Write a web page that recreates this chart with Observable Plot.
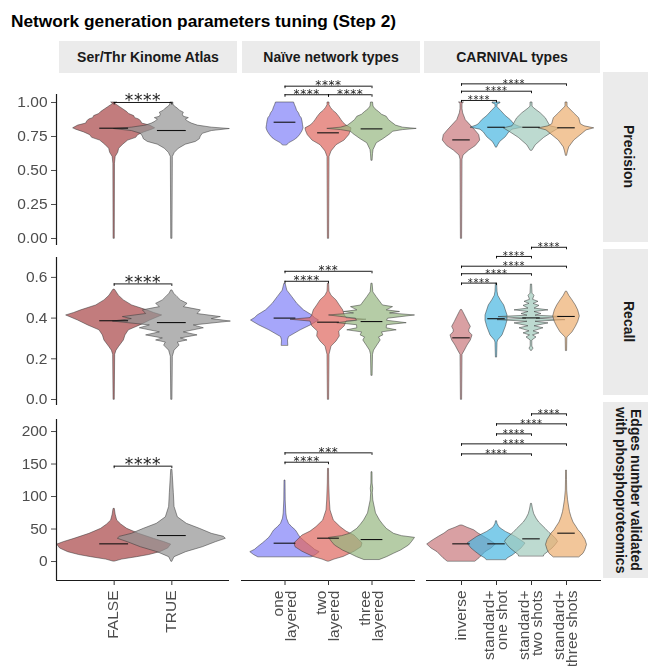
<!DOCTYPE html>
<html><head><meta charset="utf-8">
<script src="https://cdn.jsdelivr.net/npm/d3@7"></script>
<script src="https://cdn.jsdelivr.net/npm/@observablehq/plot@0.6"></script>
<style>
body{margin:0;background:#fff;}
#root{position:relative;width:648px;height:666px;overflow:hidden;background:#fff;font-family:"Liberation Sans",Arial,sans-serif;}
.title{position:absolute;left:11px;top:13px;font-size:17.3px;font-weight:bold;line-height:1;color:#000;white-space:nowrap;}
.strip{position:absolute;background:#ebebeb;display:flex;align-items:center;justify-content:center;font-weight:bold;font-size:14px;color:#1a1a1a;}
.vtext{writing-mode:vertical-rl;text-align:center;line-height:1.1;white-space:pre;}
.panel{position:absolute;will-change:transform;}
g[font-family="DejaVu Sans"]{letter-spacing:0.6px;}
</style></head><body><div id="root"></div>
<script>
// ---------------- labels ----------------
const chartTitle = "Network generation parameters tuning (Step 2)";
const columnTitles = ["Ser/Thr Kinome Atlas", "Naïve network types", "CARNIVAL types"];
const rowTitles = ["Precision", "Recall", "Edges number validated\nwith phosphoproteomics"];
const kinomeCategories = ["FALSE", "TRUE"];
const naiveCategories = ["one\nlayered", "two\nlayered", "three\nlayered"];
const carnivalCategories = ["inverse", "standard+\none shot", "standard+\ntwo shots", "standard+\nthree shots"];
const kinomeColors = ["#a84446", "#939393"];
const naiveColors = ["#8080f8", "#de665e", "#95b680"];
const carnivalColors = ["#c9777c", "#48b6e1", "#a1cabc", "#ecae6f"];
const precisionTicks = [0, 0.25, 0.5, 0.75, 1];
const recallTicks = [0, 0.2, 0.4, 0.6];
const edgesTicks = [0, 50, 100, 150, 200];

// ---------------- violin profiles: [value, density (half width)] ----------------
const precisionKinome = [
  [[0,0.6],[0.55,0.8],[0.6,1.5],[0.63,4],[0.66,5],[0.69,9],[0.72,14],[0.74,22],[0.76,24],[0.78,30],[0.8,38],[0.81,41],[0.83,36],[0.845,28],[0.86,27],[0.875,25],[0.885,21],[0.9,20],[0.915,15],[0.93,13],[0.95,9],[0.965,6],[0.98,3],[0.99,1],[1.0,3]],
  [[0,0.6],[0.6,1],[0.63,3],[0.66,7],[0.69,14],[0.71,24],[0.73,28],[0.75,29],[0.77,31],[0.79,40],[0.805,58],[0.815,40],[0.83,26],[0.845,20],[0.86,16],[0.875,14],[0.885,17],[0.895,12],[0.91,11],[0.925,12],[0.94,8],[0.955,6],[0.97,3],[0.985,1.5],[1.0,1.5]]
];
const precisionNaive = [
  [[0.686,2.3],[0.70,4],[0.72,9],[0.737,12.3],[0.76,15],[0.786,17.3],[0.81,18.5],[0.835,18],[0.86,17.5],[0.884,16.7],[0.90,15],[0.92,14],[0.94,12],[0.957,11.3],[0.98,10],[1.0,9]],
  [[0,0.6],[0.6,1],[0.64,3],[0.686,8],[0.72,16],[0.76,20.7],[0.79,22.5],[0.81,23],[0.83,18],[0.85,15],[0.87,13],[0.895,10.7],[0.92,8],[0.94,4.7],[0.96,2.5],[0.98,1],[1.0,1]],
  [[0.574,0.6],[0.62,1],[0.65,1.5],[0.70,4.7],[0.73,11.3],[0.77,19],[0.785,21],[0.797,31],[0.806,44.7],[0.815,31],[0.83,24],[0.854,19.7],[0.87,17],[0.895,14.7],[0.91,10],[0.93,7],[0.95,3.5],[0.97,1.5],[1.0,1]]
];
const precisionCarnival = [
  [[0,0.6],[0.58,1],[0.61,2],[0.647,7.7],[0.68,14.3],[0.72,18.7],[0.76,17.7],[0.79,14.3],[0.83,9.3],[0.87,4.3],[0.92,1.7],[0.95,1],[0.99,1],[1.0,2.5]],
  [[0.67,0.6],[0.69,2],[0.71,3.7],[0.745,9.3],[0.78,12.7],[0.80,16],[0.815,26],[0.83,20],[0.84,17.7],[0.87,14.3],[0.90,9.3],[0.94,4.3],[0.965,1],[0.985,1],[0.995,4],[1.0,4]],
  [[0.647,1],[0.686,4.3],[0.74,12.7],[0.78,21],[0.81,27.7],[0.825,19],[0.84,17.7],[0.884,14.3],[0.92,9.3],[0.957,2.7],[0.97,1],[1.0,1]],
  [[0.61,0.6],[0.64,1.5],[0.67,2.7],[0.72,7.7],[0.77,16],[0.795,20],[0.81,27.7],[0.825,18],[0.84,14.3],[0.884,12.7],[0.92,7.7],[0.957,2.7],[0.97,1],[1.0,1]]
];
const recallKinome = [
  [[0,0.6],[0.22,1],[0.24,2.3],[0.257,4.7],[0.29,9.7],[0.315,11.3],[0.34,14.7],[0.364,26],[0.388,36],[0.413,48],[0.425,40],[0.438,33],[0.462,18],[0.487,9.7],[0.51,4.7],[0.536,1.3],[0.54,0.6]],
  [[0,0.6],[0.21,1],[0.24,2.7],[0.265,7.7],[0.28,6],[0.29,15.7],[0.30,9],[0.315,25.7],[0.33,12],[0.35,32],[0.364,22],[0.383,59],[0.395,40],[0.405,49],[0.42,25.7],[0.438,29],[0.454,12],[0.47,15.7],[0.487,9],[0.503,5.7],[0.52,2.3],[0.536,0.6]]
];
const recallNaive = [
  [[0.265,3.3],[0.29,3],[0.307,4],[0.34,15.7],[0.364,25.7],[0.388,34],[0.40,30],[0.413,27.3],[0.438,19],[0.47,12.3],[0.503,7.3],[0.535,2.3],[0.569,0.6]],
  [[0,0.6],[0.22,1],[0.26,3],[0.285,8],[0.31,11.3],[0.334,10.7],[0.36,16.3],[0.383,18],[0.392,38],[0.40,18],[0.413,16.3],[0.438,14.7],[0.462,11.3],[0.487,8],[0.51,3],[0.53,1],[0.569,0.6]],
  [[0.118,0.6],[0.22,1],[0.24,2],[0.265,5.3],[0.29,8.7],[0.305,7],[0.315,11.3],[0.33,10],[0.34,24.7],[0.35,14.7],[0.365,15],[0.375,34.7],[0.387,15],[0.397,16],[0.413,43],[0.423,18],[0.43,28],[0.438,14.7],[0.454,21],[0.462,11],[0.47,9.7],[0.503,4.7],[0.527,1.3],[0.569,0.6]]
];
const recallCarnival = [
  [[0,0.6],[0.22,1],[0.24,3.3],[0.265,6],[0.29,9.3],[0.315,11],[0.33,8],[0.34,7.7],[0.357,9.3],[0.381,6.7],[0.405,4.3],[0.43,1.7],[0.44,0.6]],
  [[0.208,0.6],[0.28,1],[0.29,1.7],[0.315,6],[0.357,9.3],[0.388,11],[0.413,11],[0.438,9.3],[0.462,7.7],[0.487,4.3],[0.51,1.7],[0.53,1],[0.569,0.6]],
  [[0.24,0.6],[0.25,2],[0.26,0.8],[0.29,0.8],[0.305,5],[0.315,1.5],[0.325,8],[0.335,2],[0.35,12],[0.36,3],[0.374,17],[0.382,4],[0.39,34],[0.397,5],[0.405,33],[0.412,4],[0.42,10],[0.43,3],[0.438,17],[0.447,3],[0.46,8],[0.47,2],[0.48,7],[0.49,1.5],[0.51,3],[0.52,1],[0.565,0.6]],
  [[0.24,0.6],[0.30,0.8],[0.305,1],[0.33,6],[0.357,9.3],[0.381,11.7],[0.408,13.3],[0.438,11.7],[0.462,9.3],[0.487,6],[0.51,2.7],[0.53,0.6]]
];
const edgesKinome = [
  [[0,1],[3,8],[6.7,23],[10,35],[14.4,46],[20,54],[26,57],[30,50],[34.9,39.7],[42.6,24.7],[50.3,13],[57,7],[63,3],[72,1.5],[81,0.6]],
  [[0,0.6],[3,1.5],[6.7,2.7],[14.4,14.3],[22,31],[29.7,44],[35,54],[38,52],[42.6,40],[50.3,28],[58,15],[68,6],[84,2.7],[105,2],[131,1],[141,0.6]]
];
const edgesNaive = [
  [[6.7,27],[10,31],[14.4,34.7],[18,30],[22,27],[28,22],[32,19],[36,16],[40,14],[44,12.5],[48,10.7],[53,7],[58,4],[66,2],[74,1.3],[94,0.7],[124.6,0.5]],
  [[0,1],[3,6],[7,15],[15,26],[22,33],[28,34],[34,30],[40,26],[46,18],[53,12],[63,5.3],[78.5,2],[94,1.3],[120,0.7],[142.6,0.5]],
  [[2.5,8],[6.7,15],[12,22],[16.9,29],[24.6,37],[30,40],[36.4,43],[39,30],[42.6,22],[50.3,14.7],[57,11],[63,8],[74,4],[94,1.3],[105,0.8],[112,1.2],[120,0.6],[137.4,0.5]]
];
const edgesCarnival = [
  [[0,14],[5,18],[14.4,24],[20,30],[26.2,34.3],[32,29],[38,22.7],[43,17],[48,12.7],[52,6],[55.4,1]],
  [[2.5,10],[4.6,11],[9,16],[14.9,21],[20,25],[27.7,29],[33,24],[37.9,19.3],[42,14],[45.6,9.3],[50,5],[53,2.7],[58,1],[62,0.5]],
  [[8.2,12.5],[9.7,12.7],[15,17],[20,21],[25,24],[30.3,26.5],[34,25],[37.9,22.7],[44,18],[50,14.3],[55,11],[60,7.7],[66,5],[73,2.7],[80,1.5],[88.7,0.5]],
  [[6.7,13],[12,17],[18,19],[25.6,20.5],[33,19],[38,17],[43,15],[48,12],[53,10],[60,7],[68,5],[76,3.5],[83,2.7],[95,1.5],[109,0.7],[125,0.5],[140,0.4]]
];

// ---------------- medians ----------------
const precisionKinomeMedians = [0.811, 0.794];
const precisionNaiveMedians = [0.855, 0.777, 0.806];
const precisionCarnivalMedians = [0.725, 0.818, 0.818, 0.814];
const recallKinomeMedians = [0.387, 0.378];
const recallNaiveMedians = [0.40, 0.38, 0.383];
const recallCarnivalMedians = [0.303, 0.397, 0.401, 0.408];
const edgesKinomeMedians = [27.2, 40];
const edgesNaiveMedians = [28.2, 35.9, 33.8];
const edgesCarnivalMedians = [27.2, 27.2, 34.9, 43.6];

// ---------------- significance brackets: [from, to, height, label] ----------------
const precisionKinomeBrackets = [[0,1,1.0,"****"]];
const precisionNaiveBrackets = [[0,1,1.057,"****"],[1,2,1.057,"****"],[0,2,1.12,"****"]];
const precisionCarnivalBrackets = [[0,1,1.015,"****"],[0,2,1.083,"****"],[0,3,1.137,"****"]];
const recallKinomeBrackets = [[0,1,0.568,"****"]];
const recallNaiveBrackets = [[0,1,0.581,"****"],[0,2,0.63,"***"]];
const recallCarnivalBrackets = [[0,1,0.572,"****"],[0,2,0.618,"****"],[0,3,0.655,"****"],[1,2,0.703,"****"],[2,3,0.748,"****"]];
const edgesKinomeBrackets = [[0,1,146.7,"****"]];
const edgesNaiveBrackets = [[0,1,152.8,"****"],[0,2,167.2,"***"]];
const edgesCarnivalBrackets = [[0,2,165.6,"****"],[0,3,181,"****"],[1,2,196.4,"****"],[1,3,211.8,"****"],[2,3,227.2,"****"]];

// ---------------- layout ----------------
const root = document.getElementById("root");
const categoriesByCol = [kinomeCategories, naiveCategories, carnivalCategories];
const colorsByCol = [kinomeColors, naiveColors, carnivalColors];
const profiles = [[precisionKinome, precisionNaive, precisionCarnival],[recallKinome, recallNaive, recallCarnival],[edgesKinome, edgesNaive, edgesCarnival]];
const medians = [[precisionKinomeMedians, precisionNaiveMedians, precisionCarnivalMedians],[recallKinomeMedians, recallNaiveMedians, recallCarnivalMedians],[edgesKinomeMedians, edgesNaiveMedians, edgesCarnivalMedians]];
const brackets = [[precisionKinomeBrackets, precisionNaiveBrackets, precisionCarnivalBrackets],[recallKinomeBrackets, recallNaiveBrackets, recallCarnivalBrackets],[edgesKinomeBrackets, edgesNaiveBrackets, edgesCarnivalBrackets]];
const ticksByRow = [precisionTicks, recallTicks, edgesTicks];
const formatByRow = [d3.format(".2f"), d3.format(".1f"), d3.format("d")];
const domainByRow = [[-0.0515, 1.0588], [-0.0295, 0.6978], [-29.2, 218.5]];
const panelX = [[56,229],[241,415],[426,601]];
const panelY = [[94,245],[257,405],[419,580]];
const topStripX = [[59,237],[242,420],[424,600]];
const rightStripY = [[72,242],[249,395],[402,578]];

function addDiv(cls, css, html) {
  const d = document.createElement("div");
  d.className = cls; d.style.cssText = css; if (html != null) d.innerHTML = html;
  root.appendChild(d); return d;
}
addDiv("title", "", chartTitle);
columnTitles.forEach((t, c) => addDiv("strip", `left:${topStripX[c][0]}px;top:41px;width:${topStripX[c][1]-topStripX[c][0]}px;height:32px;`).textContent = t);
rowTitles.forEach((t, r) => {
  const s = addDiv("strip", `left:603px;top:${rightStripY[r][0]}px;width:50px;height:${rightStripY[r][1]-rightStripY[r][0]}px;`);
  const v = document.createElement("div"); v.className = "vtext"; v.textContent = t; s.appendChild(v);
});

function drawPanel(r, c) {
  const cats = categoriesByCol[c];
  const n = cats.length;
  const [left, right] = panelX[c];
  const [top, bottom] = panelY[r];
  const w = right - left, h = bottom - top;
  const step = w / (n + 1);
  const dom = domainByRow[r];
  const tip = 2.5 * (dom[1] - dom[0]) / h;
  const marks = [];
  profiles[r][c].forEach((prof, i) => {
    const pts = prof.map(([v, d]) => ({v, lo: i + 1 - d / step, hi: i + 1 + d / step}));
    marks.push(Plot.areaX(pts, {y: "v", x1: "lo", x2: "hi", fill: colorsByCol[c][i], fillOpacity: 0.7, stroke: "#333", strokeWidth: 0.6, strokeOpacity: 0.85}));
  });
  marks.push(Plot.ruleY(medians[r][c], {y: d => d, x1: (d, i) => i + 1 - 0.25, x2: (d, i) => i + 1 + 0.25, stroke: "#111", strokeWidth: 1.1}));
  const br = brackets[r][c];
  const fs = c === 0 ? 17 : (c === 2 ? 10 : 12);
  marks.push(Plot.ruleY(br, {y: d => d[2], x1: d => d[0] + 1, x2: d => d[1] + 1, stroke: "#000", strokeWidth: 0.9}));
  marks.push(Plot.ruleX(br, {x: d => d[0] + 1, y1: d => d[2], y2: d => d[2] - tip, stroke: "#000", strokeWidth: 0.9}));
  marks.push(Plot.ruleX(br, {x: d => d[1] + 1, y1: d => d[2], y2: d => d[2] - tip, stroke: "#000", strokeWidth: 0.9}));
  marks.push(Plot.text(br, {x: d => (d[0] + d[1]) / 2 + 1, y: d => d[2], text: d => d[3], lineAnchor: "bottom", dy: c === 0 ? 4 : 3, fontSize: fs, fontFamily: "DejaVu Sans", fill: "#222"}));
  if (c === 0) {
    marks.push(Plot.ruleX([0], {stroke: "#1a1a1a", strokeWidth: 1.2}));
    marks.push(Plot.axisY(ticksByRow[r], {tickSize: 5, tickPadding: 4, tickFormat: formatByRow[r], fontSize: 15.5, color: "#4d4d4d", label: null}));
  }
  if (r === 2) {
    marks.push(Plot.ruleY([dom[0]], {stroke: "#1a1a1a", strokeWidth: 1.2}));
    marks.push(Plot.axisX(d3.range(1, n + 1), {tickSize: 5, tickFormat: () => "", label: null, color: "#333"}));
    marks.push(Plot.text(cats, {x: (d, i) => i + 1, frameAnchor: "bottom", text: d => d, rotate: -90, textAnchor: "end", lineAnchor: "middle", lineHeight: 0.85, dy: 10, fontSize: 15.5, fill: "#4d4d4d"}));
  }
  const svg = Plot.plot({
    width: w, height: h,
    marginTop: 0, marginBottom: 0, marginLeft: 0, marginRight: 0,
    x: {domain: [0, n + 1], axis: null},
    y: {domain: dom, axis: null},
    style: {background: "transparent", overflow: "visible", fontFamily: '"Liberation Sans", Arial, sans-serif'},
    marks
  });
  svg.classList.add("panel");
  svg.style.left = left + "px";
  svg.style.top = top + "px";
  svg.style.position = "absolute";
  root.appendChild(svg);
}
for (let r = 0; r < 3; r++) for (let c = 0; c < 3; c++) drawPanel(r, c);
</script></body></html>
